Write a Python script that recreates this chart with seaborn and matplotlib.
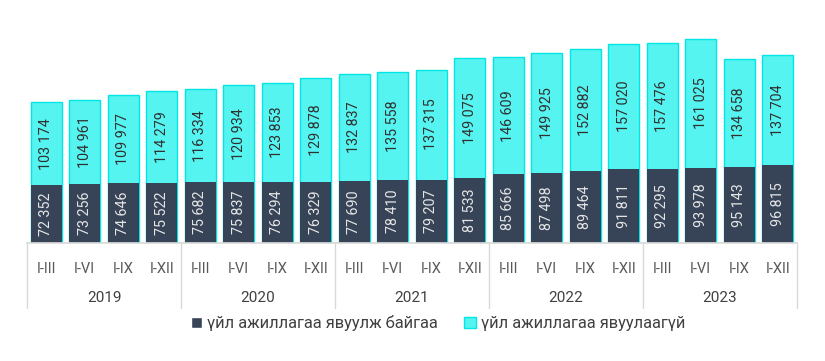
import numpy as np
import pandas as pd
import seaborn as sns
import matplotlib.pyplot as plt
from matplotlib.patches import Patch

# data
years = ['2019', '2020', '2021', '2022', '2023']
quarters = ['I-III', 'I-VI', 'I-IX', 'I-XII']
active = [72352, 73256, 74646, 75522, 75682, 75837, 76294, 76329, 77690, 78410,
          79207, 81533, 85666, 87498, 89464, 91811, 92295, 93978, 95143, 96815]
inactive = [103174, 104961, 109977, 114279, 116334, 120934, 123853, 129878, 132837, 135558,
            137315, 149075, 146609, 149925, 152882, 157020, 157476, 161025, 134658, 137704]
label_active = 'үйл ажиллагаа явуулж байгаа'
label_inactive = 'үйл ажиллагаа явуулаагүй'

dark = '#374458'
cyan = '#55F4F0'
cyan_edge = '#00E5E5'
grid_col = '#d9d9d9'

sns.set_theme(style='white')
plt.rcParams['font.family'] = ['Roboto', 'DejaVu Sans']

df = pd.DataFrame({
    'period': [f'{y} {q}' for y in years for q in quarters],
    'active': active,
    'inactive': inactive,
})
df['total'] = df['active'] + df['inactive']

fig = plt.figure(figsize=(8.25, 3.61), dpi=100)
ax = fig.add_axes([27 / 825, 1 - 243 / 361, 770 / 825, 233 / 361])

# stacked bars: total (cyan) then the active part drawn over it
sns.barplot(data=df, x='period', y='total', color=cyan, saturation=1, width=0.8,
            edgecolor=cyan_edge, linewidth=1, ax=ax)
sns.barplot(data=df, x='period', y='active', color=dark, saturation=1, width=0.8,
            linewidth=0, ax=ax)

fmt = lambda v: f'{v:,}'.replace(',', ' ')
for i, (a, b) in enumerate(zip(active, inactive)):
    ax.text(i, a / 2, fmt(a), rotation=90, ha='center', va='center',
            fontsize=10.3, color='#e6e6e6')
    ax.text(i, a + b / 2, fmt(b), rotation=90, ha='center', va='center',
            fontsize=10.3, color='#303030')

ax.set_xlim(-0.5, len(df) - 0.5)
ax.set_ylim(0, 291000)
ax.set_yticks([])
ax.set_xlabel('')
ax.set_ylabel('')
for s in ['top', 'right', 'left']:
    ax.spines[s].set_visible(False)
ax.spines['bottom'].set_color(grid_col)

ax.set_xticks(range(len(df)))
ax.set_xticklabels(quarters * len(years), fontsize=10.5, color='#595959')
ax.tick_params(axis='x', length=0, pad=14)

# year group labels and separators
trans = ax.get_xaxis_transform()
for k, y in enumerate(years):
    ax.text(4 * k + 1.5, -0.235, y, transform=trans, ha='center', va='center',
            fontsize=11, color='#404040')
for k in range(len(years) + 1):
    ax.plot([4 * k - 0.5] * 2, [0, -0.28], transform=trans, color=grid_col,
            lw=1, clip_on=False)

handles = [Patch(facecolor=dark, label=label_active),
           Patch(facecolor=cyan, edgecolor=cyan_edge, label=label_inactive)]
fig.legend(handles=handles, loc='center', bbox_to_anchor=(438 / 825, 1 - 323 / 361),
           ncol=2, frameon=False, fontsize=11.8, handlelength=0.7, handleheight=0.7,
           handletextpad=0.3, columnspacing=1.6, labelcolor='#404040')

fig.savefig('out.png', dpi=100)
